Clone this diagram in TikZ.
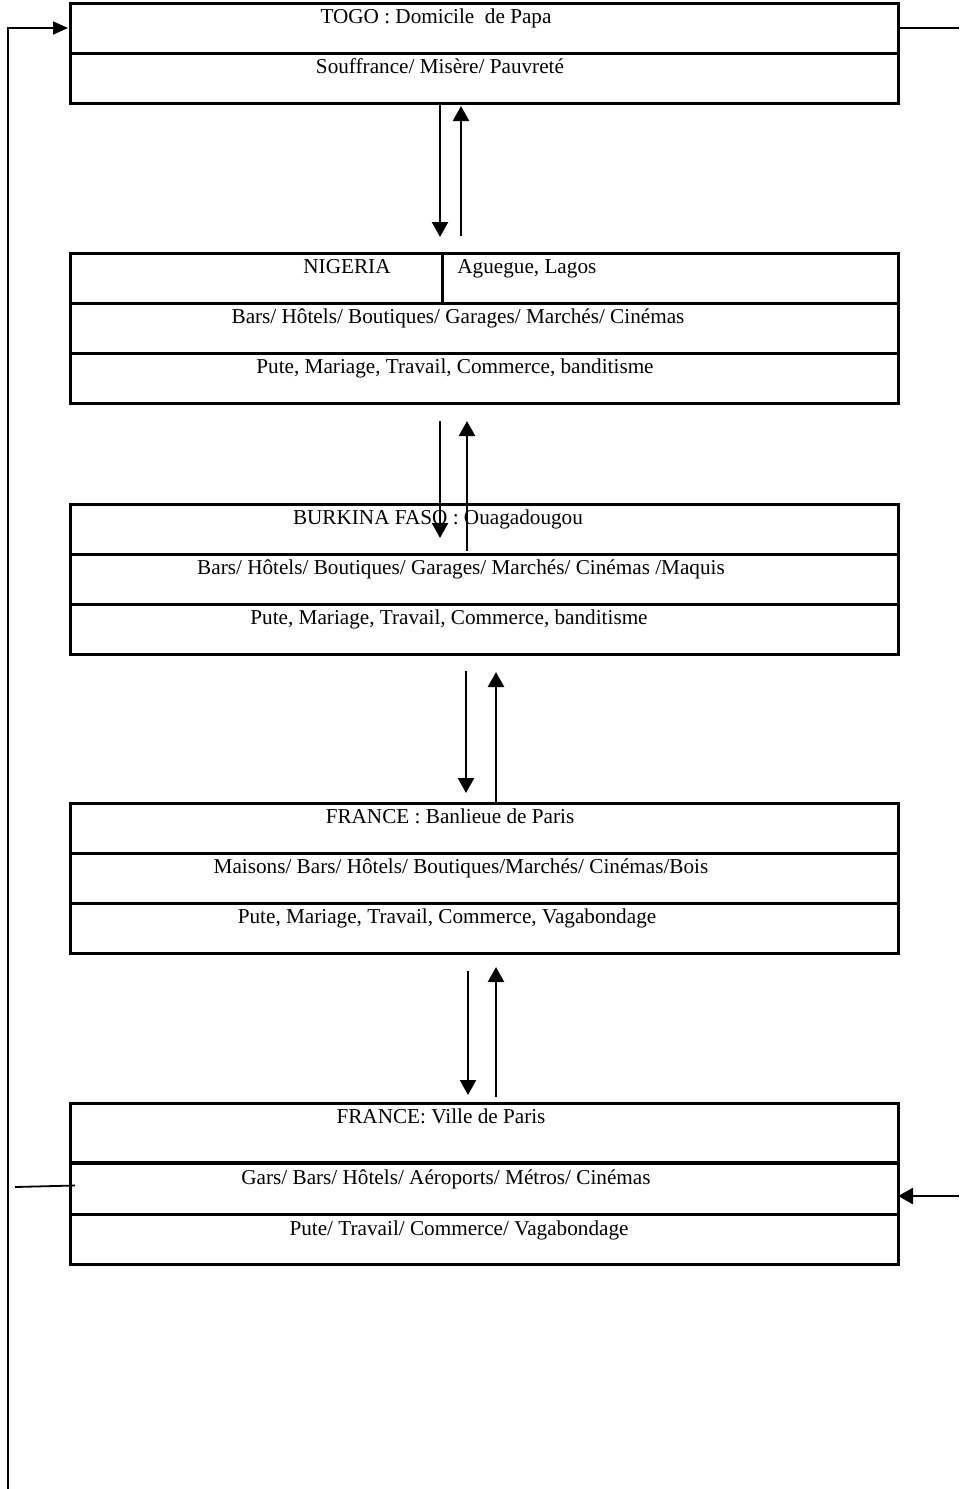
\documentclass[tikz,border=0pt]{standalone}
\usepackage{fontspec}
\setmainfont{Liberation Serif}
\usetikzlibrary{calc, arrows.meta}

\begin{document}
\begin{tikzpicture}[
  x=0.5pt, y=-0.5pt,
  row/.style={
    rectangle, draw=black, line width=1.5pt, anchor=north west,
    minimum width=414pt, minimum height=25pt, inner sep=0pt, outer sep=0pt
  },
  rowtall/.style={row, minimum height=30pt},
  rowmid/.style ={row, minimum height=25.5pt},
  txt/.style ={inner sep=0pt, anchor=base, font=\fontsize{10.6}{12.7}\selectfont},
  arrow/.style    ={-{Triangle[width=8pt,length=7.5pt]}, line width=1.2pt, black},
  loopline/.style ={line width=0.9pt, black},
  looparrow/.style={loopline, -{Triangle[width=6.5pt,length=7.5pt]}}
]
  \useasboundingbox (0,0) rectangle (959,1489);

  \node[row] (togoA) at (70,3)  {};
  \node[row] (togoB) at (70,53) {};
  \node[txt] (togoT) at (436,23.5) {TOGO : Domicile\ \ de Papa};
  \node[txt] (togoS) at (440,73.5) {Souffrance/ Misère/ Pauvreté};

  \node[row] (nigA) at (70,253) {};
  \node[row] (nigB) at (70,303) {};
  \node[row] (nigC) at (70,353) {};
  \draw[line width=1.5pt] ([xshift=-21pt]nigA.north) -- ([xshift=-21pt]nigA.south);
  \node[txt] (nigT)  at (347,273.5) {NIGERIA};
  \node[txt, anchor=base west] (nigV) at (457,273.5) {Aguegue, Lagos};
  \node[txt] (nigL) at (458,323.5) {Bars/ Hôtels/ Boutiques/ Garages/ Marchés/ Cinémas};
  \node[txt] (nigS) at (455,373.5) {Pute, Mariage, Travail, Commerce, banditisme};

  \node[row] (burA) at (70,504) {};
  \node[row] (burB) at (70,554) {};
  \node[row] (burC) at (70,604) {};
  \node[txt] (burT) at (438,524.5) {BURKINA FASO : Ouagadougou};
  \node[txt] (burL) at (461,574.5) {Bars/ Hôtels/ Boutiques/ Garages/ Marchés/ Cinémas /Maquis};
  \node[txt] (burS) at (449,624.5) {Pute, Mariage, Travail, Commerce, banditisme};

  \node[row] (fraA) at (70,803) {};
  \node[row] (fraB) at (70,853) {};
  \node[row] (fraC) at (70,903) {};
  \node[txt] (fraT) at (450,823.5) {FRANCE : Banlieue de Paris};
  \node[txt] (fraL) at (461,873.5) {Maisons/ Bars/ Hôtels/ Boutiques/Marchés/ Cinémas/Bois};
  \node[txt] (fraS) at (447,923.5) {Pute, Mariage, Travail, Commerce, Vagabondage};

  \node[rowtall] (parA) at (70,1103) {};
  \node[rowmid]  (parB) at (70,1163) {};
  \node[row]     (parC) at (70,1214) {};
  \draw[line width=2.2pt] (parA.south west) -- (parA.south east);
  \node[txt] (parT) at (441,1123.5) {FRANCE: Ville de Paris};
  \node[txt] (parL) at (446,1184) {Gars/ Bars/ Hôtels/ Aéroports/ Métros/ Cinémas};
  \node[txt] (parS) at (459,1235) {Pute/ Travail/ Commerce/ Vagabondage};

  \draw[arrow] ($(togoB.south)+(-44,2)$)  -- ($(nigA.north)+(-44,-16)$);
  \draw[arrow] ($(nigA.north)+(-23,-17)$) -- ($(togoB.south)+(-23,3)$);
  \draw[arrow] ($(nigC.south)+(-44,18)$)  -- ($(burA.north)+(-44,34)$);
  \draw[arrow] ($(burA.north)+(-17,47)$)  -- ($(nigC.south)+(-17,18)$);
  \draw[arrow] ($(burC.south)+(-18,17)$)  -- ($(fraA.north)+(-18,-10)$);
  \draw[arrow] ($(fraA.north)+(12,0)$)    -- ($(burC.south)+(12,18)$);
  \draw[arrow] ($(fraC.south)+(-16,18)$)  -- ($(parA.north)+(-16,-8)$);
  \draw[arrow] ($(parA.north)+(12,-6)$)   -- ($(fraC.south)+(12,14)$);

  \coordinate (loopEnd)  at (8,1489);
  \coordinate (rightTop) at (959,28);
  \coordinate (rightBot) at (959,1196);
  \coordinate (stub)     at (15,1187);
  \draw[looparrow] (loopEnd) |- ([xshift=-1pt]togoA.west);
  \draw[loopline] (togoA.east) -- (rightTop);
  \draw[arrow] (rightBot) -- (rightBot -| parB.east);
  \draw[loopline] (stub) -- ($(parB.west)+(5,-3)$);
\end{tikzpicture}
\end{document}
